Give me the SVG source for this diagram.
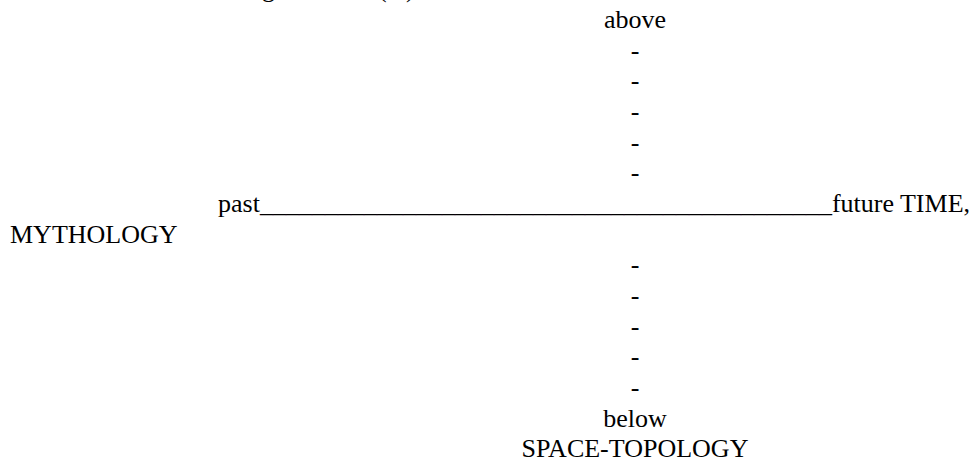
<svg xmlns="http://www.w3.org/2000/svg" width="973" height="459" viewBox="0 0 973 459">
<style>
text { font-family: "Liberation Serif", "Times New Roman", serif; font-size: 26px; fill: #000; }
.c { text-anchor: middle; }
</style>
<rect width="973" height="459" fill="#fff"/>
<g id="clipped-line">
<text x="262" y="-2.7">g</text>
<text x="378" y="-2.7">(</text>
<text x="406" y="-2.7">)</text>
</g>
<g id="above">
<text class="c" x="635" y="28">above</text>
</g>
<g id="upper-axis">
<text class="c" x="635" y="58.7">-</text>
<text class="c" x="635" y="89.3">-</text>
<text class="c" x="635" y="120">-</text>
<text class="c" x="635" y="150.6">-</text>
<text class="c" x="635" y="181.3">-</text>
</g>
<g id="time-axis">
<text x="218" y="212">past____________________________________________future TIME,</text>
</g>
<g id="mythology">
<text x="10" y="242.6">MYTHOLOGY</text>
</g>
<g id="lower-axis">
<text class="c" x="635" y="273.3">-</text>
<text class="c" x="635" y="304">-</text>
<text class="c" x="635" y="334.6">-</text>
<text class="c" x="635" y="365.3">-</text>
<text class="c" x="635" y="396">-</text>
</g>
<g id="below">
<text class="c" x="635" y="426.6">below</text>
</g>
<g id="space-topology">
<text class="c" x="635" y="457.2">SPACE-TOPOLOGY</text>
</g>
</svg>
